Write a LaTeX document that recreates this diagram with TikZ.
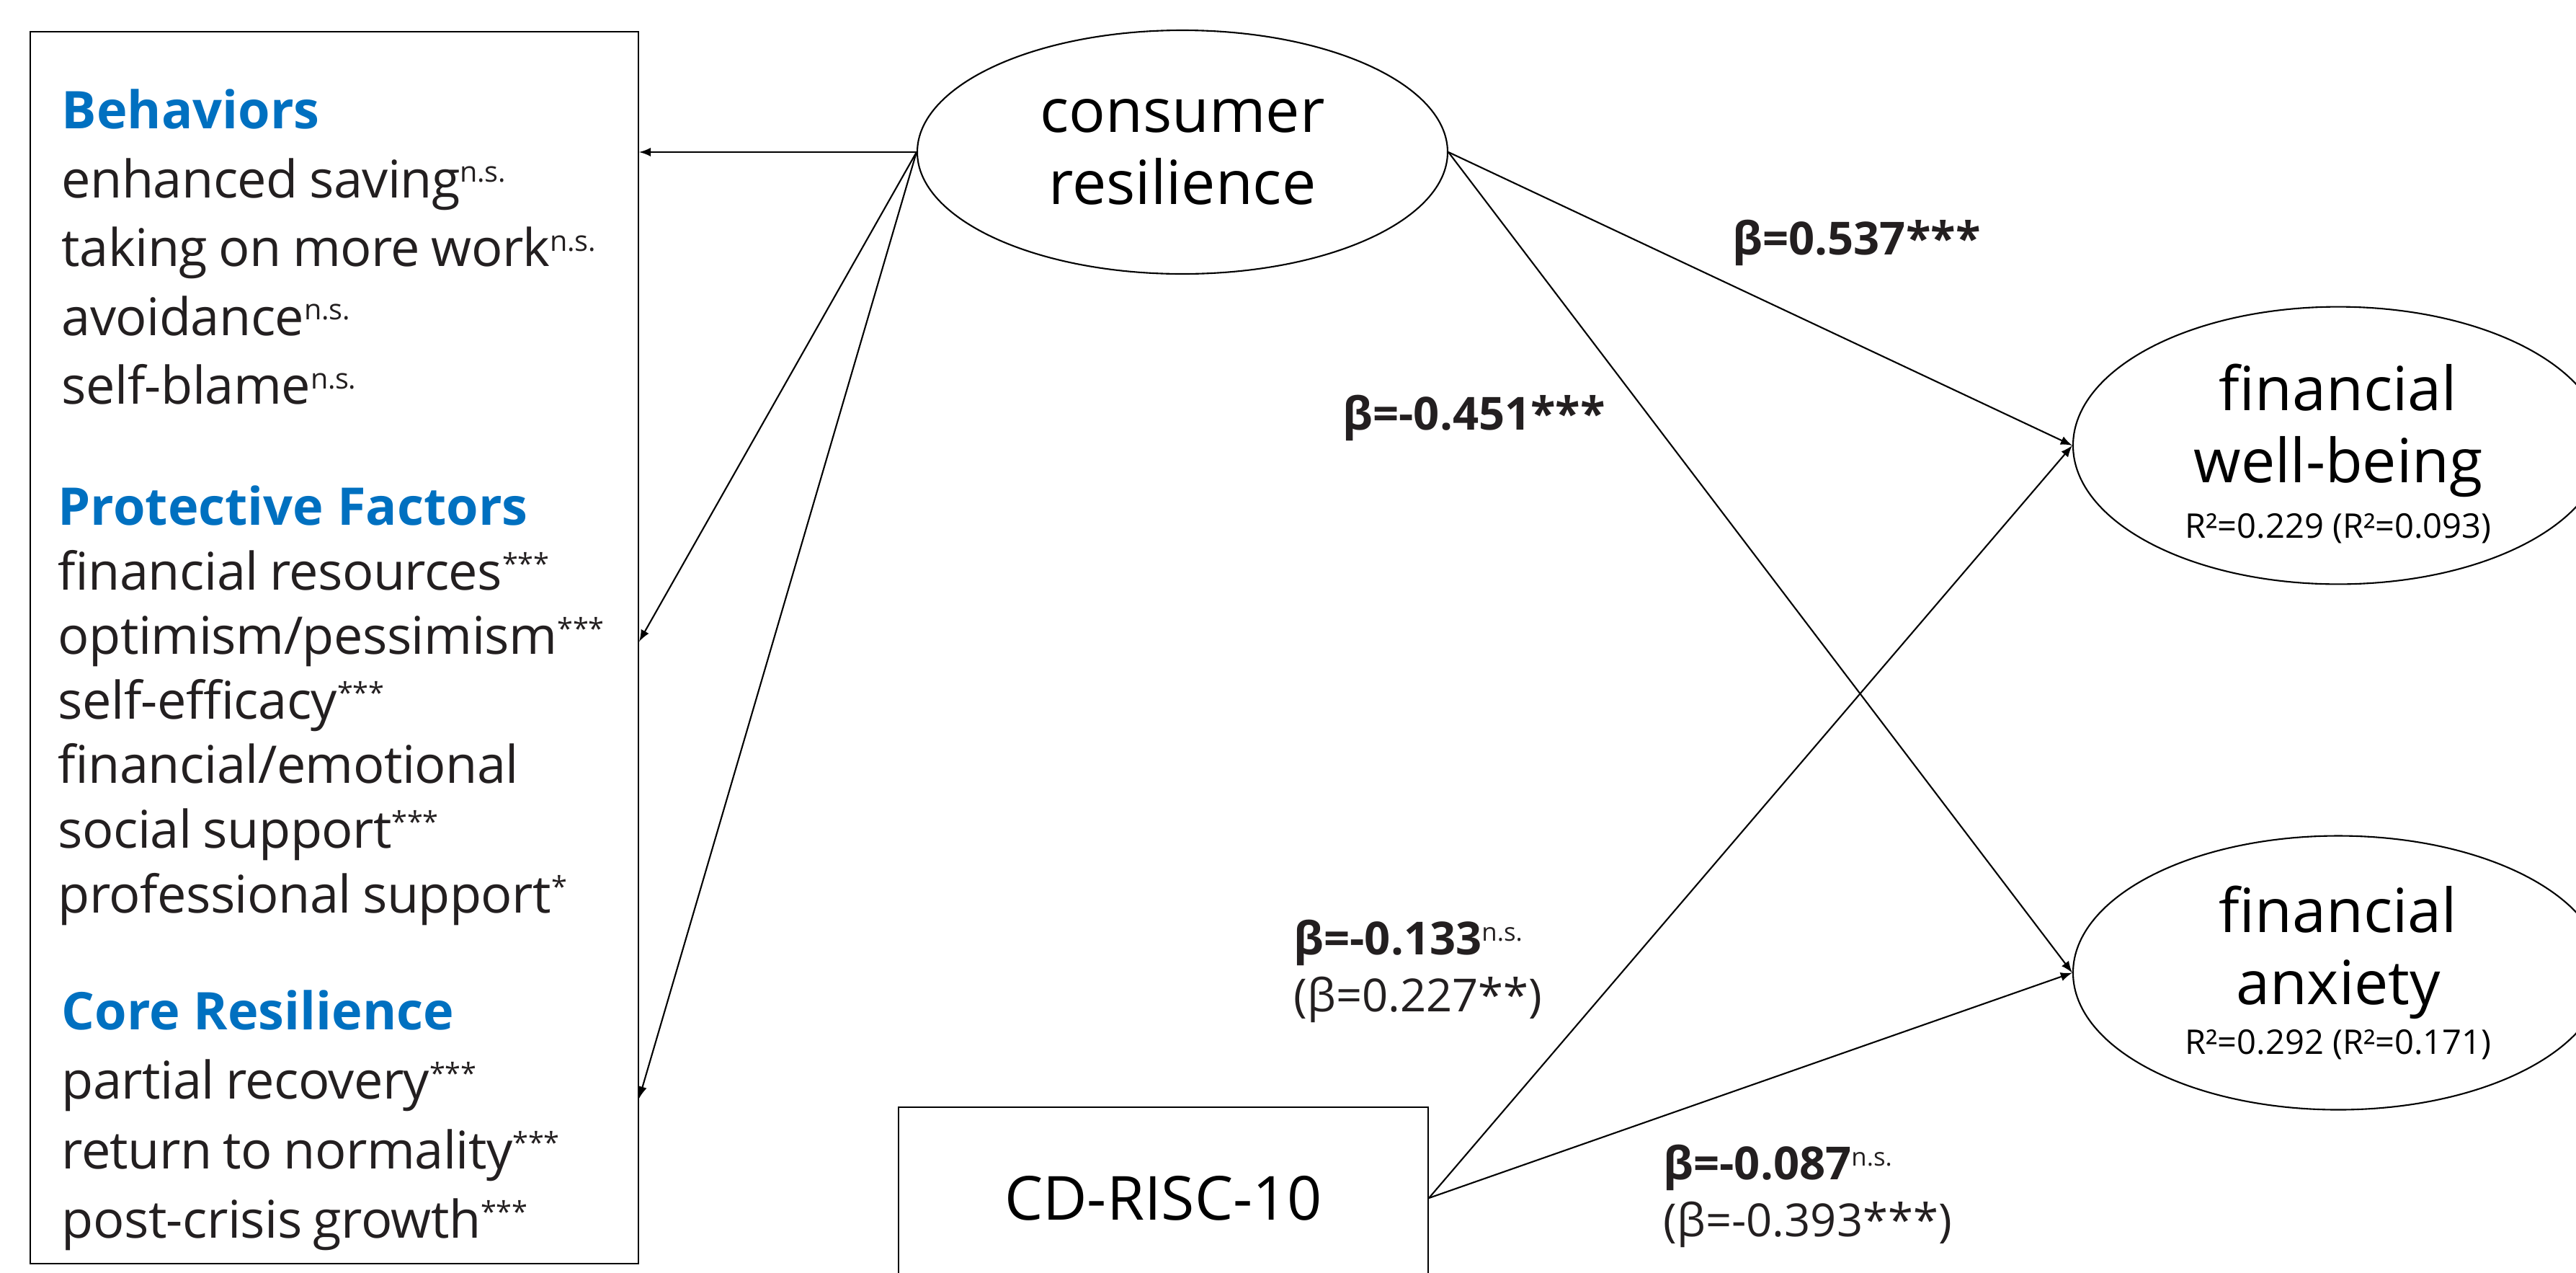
\documentclass[tikz,border=0pt]{standalone}
\usepackage{fontspec}
\setmainfont{Open Sans}
\newfontfamily\boxfont[LetterSpace=-0.8, WordSpace=0.85]{Open Sans}
\usepackage{xcolor}
\usepackage{graphicx}
\usetikzlibrary{positioning}
\usetikzlibrary{arrows}
\usetikzlibrary{shapes.geometric}

\definecolor{headblue}{RGB}{0,112,192}
\definecolor{inkgray}{RGB}{35,31,32}
\newcommand{\signif}[1]{\raisebox{0.3em}{\scalebox{0.55}{#1}}}
\newcommand{\sechead}[1]{{\rmfamily\bfseries\color{headblue}#1}}

\begin{document}
\begin{tikzpicture}
			\tikzstyle{latent} = [draw, ellipse, inner sep=0pt, line width=0.6pt, align=center, font=\fontsize{24}{28.5}\selectfont]
			\tikzstyle{outcome} = [latent, minimum width=7.36cm, minimum height=3.8cm]
			\tikzstyle{sect} = [inner sep=0pt, anchor=north west, align=left, text=inkgray, font=\boxfont\fontsize{20.5}{27.2}\selectfont]
			\tikzstyle{coef} = [inner sep=0pt, align=left, text=inkgray, font=\fontsize{18}{22.5}\selectfont]
			\tikzstyle{line} = [draw, -latex, line width=0.6pt]
			
			\useasboundingbox (0,0) rectangle (35.75,-17.66);
			
			% indicator box
			\node [draw, line width=0.6pt, minimum width=8.44cm, minimum height=17.09cm] (factors) at (4.64,-8.985) {};
			\node [sect] (behav) at (0.85,-1.23) {\sechead{Behaviors}\\
				enhanced saving\signif{n.s.}\\
				taking on more work\signif{n.s.}\\
				avoidance\signif{n.s.}\\
				self-blame\signif{n.s.}};
			\node [sect, font=\boxfont\fontsize{20.5}{25.5}\selectfont] (protect) at (0.80,-6.73) {\sechead{Protective Factors}\\
				financial resources\signif{***}\\
				optimism/pessimism\signif{***}\\
				self-efficacy\signif{***}\\
				financial/emotional\\
				social support\signif{***}\\
				professional support\signif{*}};
			\node [sect, font=\boxfont\fontsize{20.5}{27.4}\selectfont] (core) at (0.85,-13.73) {\sechead{Core Resilience}\\
				partial recovery\signif{***}\\
				return to normality\signif{***}\\
				post-crisis growth\signif{***}};
			\coordinate (pfIn) at ([yshift=0.85mm]factors.east);
			\coordinate (crIn) at ([yshift=-62.5mm]factors.east);
			
			% constructs
			\node [latent, minimum width=7.36cm, minimum height=3.38cm] (cres) at (16.41,-2.11) {consumer\\resilience};
			\node [outcome] (wellb) at (32.45,-6.18) {\rule{0pt}{24.8pt}financial\\well-being\\[-6.5pt]{\fontsize{13.4}{16}\selectfont R²=0.229 (R²=0.093)}};
			\node [outcome, below=3.47cm of wellb] (anx) {financial\\anxiety\\[-9pt]{\fontsize{13.4}{16}\selectfont R²=0.292 (R²=0.171)}};
			\node [draw, line width=0.6pt, minimum width=7.35cm, minimum height=2.52cm, font=\fontsize{24}{28.5}\selectfont] (cdrisc) at (16.145,-16.62) {CD-RISC-10};
			
			\path [line] (cres.west) -- (factors.east |- cres.west);
			\path [line] (cres.west) -- (pfIn);
			\path [line] (cres.west) -- (crIn);
			\path [line] (cres.east) -- (wellb.west);
			\path [line] (cres.east) -- (anx.west);
			\path [line] (cdrisc.east) -- (wellb.west);
			\path [line] (cdrisc.east) -- (anx.west);
			
			% path coefficients
			\node [coef, anchor=base west] (b537) at (24.04,-3.53) {\bfseries β=0.537***};
			\node [coef, anchor=base west] (b451) at (18.63,-5.96) {\bfseries β=-0.451***};
			\node [coef, anchor=north west] (b133) at (17.95,-12.75) {\textbf{β=-0.133}\signif{n.s.}\\(β=0.227**)};
			\node [coef, anchor=north west] (b087) at (23.08,-15.87) {\textbf{β=-0.087}\signif{n.s.}\\(β=-0.393***)};
			\end{tikzpicture}
\end{document}
